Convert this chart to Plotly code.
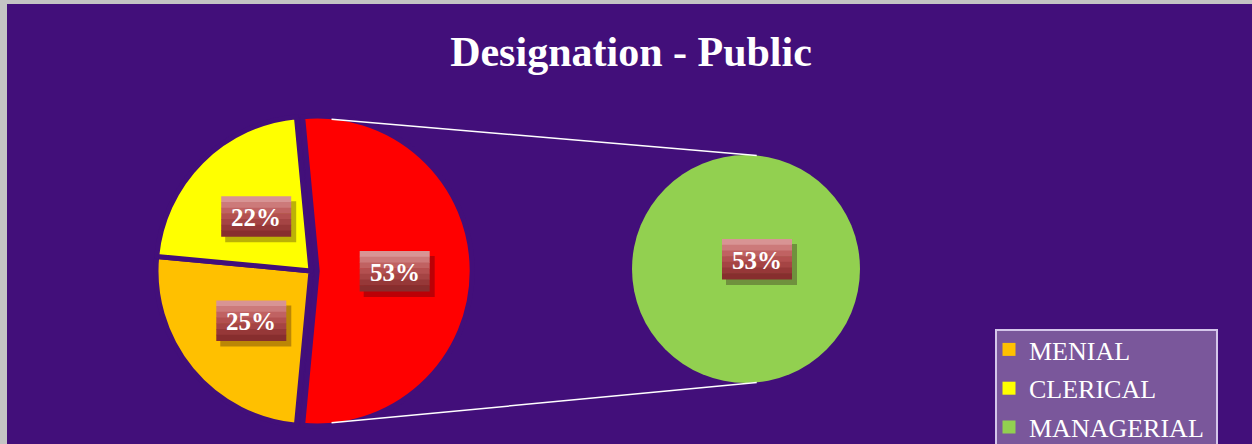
import math
import plotly.graph_objects as go

W, H = 1252, 444

# data
categories = ["MENIAL", "CLERICAL", "MANAGERIAL"]
shares = [25, 22, 53]
slice_colors = ["#ffc000", "#ffff00", "#ff0000"]
legend_colors = ["#ffc000", "#ffff00", "#92d050"]
second_labels = ["MANAGERIAL"]
second_values = [53]
second_colors = ["#92d050"]

BG = "#420f7a"
SERIF = "Liberation Serif"

def px(x):
    return x / W

def py(y):
    return 1 - y / H

# geometry (pixels)
pull = 0.04
c1 = (311, 271)
r1 = 155
c2 = (746, 269)
r2 = 114

total = sum(shares)
red_deg = shares[2] / total * 360
rotation = 90 + red_deg / 2

box1 = r1 * (1 + pull)
box2 = r2

fig = go.Figure()
fig.add_trace(go.Pie(
    labels=categories, values=shares, sort=False, direction="clockwise",
    rotation=rotation, pull=[0, 0, pull], textinfo="none",
    marker=dict(colors=slice_colors, line=dict(color=BG, width=5)),
    domain=dict(x=[px(c1[0] - box1), px(c1[0] + box1)],
                y=[py(c1[1] + box1), py(c1[1] - box1)]),
    showlegend=False, hoverinfo="label+percent"))
fig.add_trace(go.Pie(
    labels=second_labels, values=second_values, sort=False, textinfo="none",
    marker=dict(colors=second_colors, line=dict(width=0)),
    domain=dict(x=[px(c2[0] - box2), px(c2[0] + box2)],
                y=[py(c2[1] + box2), py(c2[1] - box2)]),
    showlegend=False, hoverinfo="label"))

# legend entries
for name, col in zip(categories, legend_colors):
    fig.add_trace(go.Scatter(x=[None], y=[None], mode="markers", name=name, legendgroup=name,
                             marker=dict(symbol="square", size=13, color=col)))

# label boxes (shapes for the gradient box, annotation for the text)
stripes = ["#d89494", "#cc7a7a", "#c06262", "#b35050", "#a54444", "#963838", "#872e2e"]
shapes = []
annotations = []

def label_box(cx, cy, text):
    bw, bh = 70, 40
    shapes.append(dict(type="rect", xref="paper", yref="paper",
                       x0=px(cx - bw / 2 + 4), x1=px(cx + bw / 2 + 5),
                       y0=py(cy + bh / 2 + 6), y1=py(cy - bh / 2 + 5),
                       fillcolor="rgba(30,0,20,0.30)", line=dict(width=0)))
    sh = bh / len(stripes)
    for i, sc in enumerate(stripes):
        y0 = cy - bh / 2 + sh * i
        shapes.append(dict(type="rect", xref="paper", yref="paper",
                           x0=px(cx - bw / 2), x1=px(cx + bw / 2),
                           y0=py(y0 + sh + 0.5), y1=py(y0),
                           fillcolor=sc, line=dict(width=0)))
    annotations.append(dict(x=px(cx), y=py(cy + 1), xref="paper", yref="paper", text=text,
                            xanchor="center", yanchor="middle", showarrow=False,
                            font=dict(family=SERIF, size=25, color="white", weight="bold")))

start = rotation
for i, v in enumerate(shares):
    deg = v / total * 360
    mid = math.radians(start + deg / 2)
    dist = 0.5 + (pull if i == 2 else 0)
    lx = c1[0] + dist * r1 * math.sin(mid)
    ly = c1[1] - dist * r1 * math.cos(mid)
    label_box(lx, ly, f"{round(v / total * 100)}%")
    start += deg

label_box(c2[0] + 11, c2[1] - 10, f"{round(second_values[0] / total * 100)}%")

# connector lines
ang = math.radians((red_deg - 180) / 2)
red_c = (c1[0] + pull * r1, c1[1])
rv = r1 - 2.5
for sgn in (1, -1):
    x0 = red_c[0] + rv * math.sin(ang)
    y0 = red_c[1] - sgn * rv * math.cos(ang)
    x1 = c2[0] + r2 * math.sin(ang)
    y1 = c2[1] - sgn * r2 * math.cos(ang)
    shapes.append(dict(type="line", xref="paper", yref="paper", x0=px(x0), y0=py(y0),
                       x1=px(x1), y1=py(y1), line=dict(color="white", width=1.5)))

# legend box and outer frame
shapes.append(dict(type="rect", xref="paper", yref="paper", x0=px(996), x1=px(1217),
                   y0=py(460), y1=py(330), fillcolor="#7a579b",
                   line=dict(color="#d4c6ea", width=2), layer="below"))
shapes.append(dict(type="rect", xref="paper", yref="paper", x0=0, x1=px(7), y0=0, y1=1,
                   fillcolor="#c4c4c4", line=dict(width=0)))
shapes.append(dict(type="rect", xref="paper", yref="paper", x0=0, x1=1, y0=py(4), y1=1,
                   fillcolor="#c4c4c4", line=dict(width=0)))

fig.update_layout(
    width=W, height=H, autosize=False,
    margin=dict(l=0, r=0, t=0, b=0, autoexpand=False),
    paper_bgcolor=BG, plot_bgcolor="rgba(0,0,0,0)",
    title=dict(text="Designation - Public", x=px(631), xanchor="center",
               y=py(51), yanchor="middle",
               font=dict(family=SERIF, size=42, color="white", weight="bold")),
    xaxis=dict(visible=False), yaxis=dict(visible=False),
    legend=dict(x=px(989), y=py(326), xanchor="left", yanchor="top",
                bgcolor="rgba(0,0,0,0)", borderwidth=0, tracegroupgap=2,
                font=dict(family=SERIF, size=26, color="white")),
    shapes=shapes, annotations=annotations,
)

fig.write_html("out.html", config={"displayModeBar": False},
               post_script="document.body.style.margin='0';document.body.style.overflow='hidden';")
